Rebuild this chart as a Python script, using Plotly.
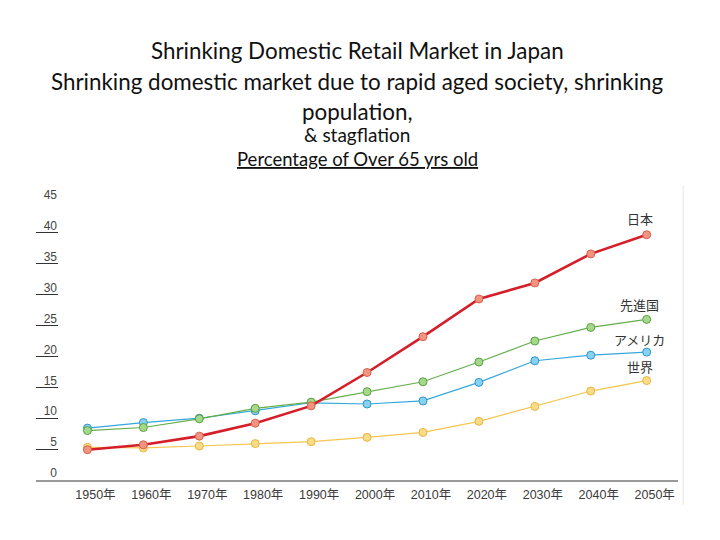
import plotly.graph_objects as go

# Percentage of population aged 65+
years = [1950, 1960, 1970, 1980, 1990, 2000, 2010, 2020, 2030, 2040, 2050]
year_labels = [f"{y}年" for y in years]

japan = [4.9, 5.7, 7.1, 9.2, 12.0, 17.4, 23.2, 29.3, 31.9, 36.6, 39.7]
developed = [8.0, 8.5, 9.9, 11.6, 12.6, 14.3, 15.9, 19.1, 22.5, 24.7, 26.0]
america = [8.4, 9.3, 10.0, 11.2, 12.5, 12.3, 12.8, 15.8, 19.3, 20.2, 20.7]
world = [5.3, 5.2, 5.5, 5.9, 6.2, 6.9, 7.7, 9.5, 11.9, 14.4, 16.1]

y_ticks = [0, 5, 10, 15, 20, 25, 30, 35, 40, 45]

W, H = 720, 540
M_L, M_R, M_T, M_B = 36, 42, 202, 60
PLOT_H = H - M_T - M_B

series = [
    # name, values, line colour, marker fill, marker edge, line width, label yshift
    ("世界", world, "#f4c64e", "#fbdc86", "#e8b540", 1.2, 14),
    ("アメリカ", america, "#35a6dc", "#86d2f2", "#2f95c8", 1.2, 13),
    ("先進国", developed, "#62ad4a", "#a4d98a", "#5a9f44", 1.2, 15),
    ("日本", japan, "#d41f2a", "#f29580", "#d8604c", 2.6, 16),
]

fig = go.Figure()
for name, vals, lc, fill, edge, lw, _ in series:
    fig.add_trace(go.Scatter(
        x=years, y=vals, mode="lines+markers", name=name,
        line=dict(color=lc, width=lw),
        marker=dict(size=8, color=fill, line=dict(color=edge, width=1)),
        showlegend=False, cliponaxis=False,
    ))

annotations = []
for name, vals, lc, fill, edge, lw, ys in series:
    annotations.append(dict(
        x=years[-1], y=vals[-1], xref="x", yref="y", text=name,
        showarrow=False, xshift=-7, yshift=ys,
        font=dict(family="Noto Sans CJK JP", size=13, color="#333333"),
    ))

# title block above the chart, positions in page pixels
title_font = "Lato, Liberation Sans, sans-serif"
titles = [
    ("Shrinking Domestic Retail Market in Japan", 50, 22.4),
    ("Shrinking domestic market due to rapid aged society, shrinking", 81, 22.4),
    ("population,", 111, 22.4),
    ("& stagflation", 134, 19),
    ("<u>Percentage of Over 65 yrs old</u>", 159, 18.5),
]
for text, ypx, size in titles:
    annotations.append(dict(
        x=0.5, y=(H - M_B - ypx) / PLOT_H, xref="paper", yref="paper", text=text,
        showarrow=False, xanchor="center", yanchor="middle",
        font=dict(family=title_font, size=size, color="#111111"),
    ))

fig.update_layout(
    width=W, height=H,
    margin=dict(l=M_L, r=M_R, t=M_T, b=M_B, autoexpand=False),
    paper_bgcolor="white", plot_bgcolor="white",
    annotations=annotations,
    shapes=[dict(type="line", xref="paper", yref="paper",
                 x0=1.008, x1=1.008, y0=-0.09, y1=1.06,
                 line=dict(color="#e6e6e6", width=1))],
)
fig.update_xaxes(
    range=[1940.8, 2055.6], tickvals=years, ticktext=year_labels,
    showgrid=False, zeroline=False, showline=True,
    linecolor="#999999", linewidth=2, ticks="",
    ticklabelshift=8, ticklabelstandoff=2, automargin=False,
    tickfont=dict(family="Liberation Sans, Noto Sans CJK JP", size=12.5, color="#3a3a3a"),
)
fig.update_yaxes(
    range=[0, 45], tickvals=y_ticks,
    showgrid=False, zeroline=False, showline=False,
    ticks="inside", ticklen=22, tickwidth=1.3, tickcolor="#333333",
    ticklabelshift=-7, ticklabelstandoff=-22, automargin=False,
    tickfont=dict(family="Liberation Sans", size=12, color="#444444"),
)

fig.write_html("out.html", config={"displayModeBar": False},
               post_script="document.body.style.margin='0px';")
